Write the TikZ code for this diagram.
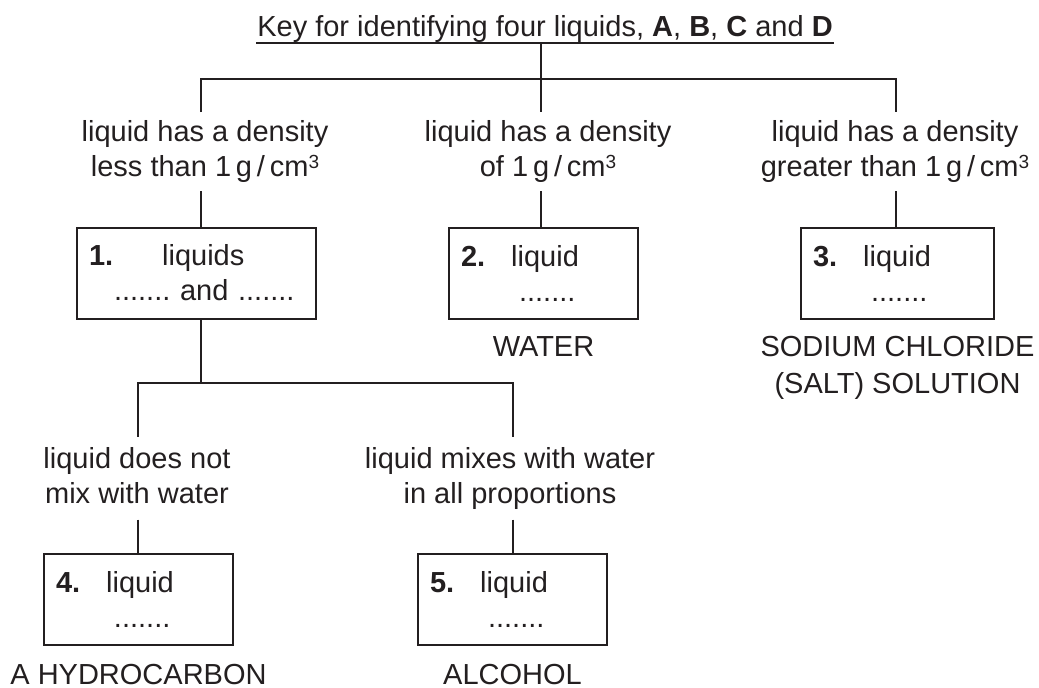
\documentclass[tikz,border=0pt]{standalone}
\usepackage{fontspec}
\setmainfont{Liberation Sans}
\usetikzlibrary{positioning}
\definecolor{ink}{HTML}{231F20}
\frenchspacing
\newcommand{\keyfont}{\fontsize{29}{35}\selectfont}
\newcommand{\gcm}{1\,g\,/\,cm\raisebox{8pt}{\fontsize{19}{19}\selectfont 3}}
\tikzset{
  question/.style={align=center, inner sep=0pt, minimum height=77pt, font=\keyfont},
  keybox/.style={draw, align=left, text width=#1, inner xsep=12pt, inner ysep=0pt, minimum height=91pt, font=\keyfont},
  keybox/.default=165pt,
  answer/.style={align=center, inner sep=0pt, font=\keyfont},
}

\begin{document}
\begin{tikzpicture}[x=1pt, y=-1pt, line width=2pt, color=ink]
        \useasboundingbox (0,0) rectangle (1039,688);

        \node[answer, anchor=base] (title) at (545,36) {Key for identifying four liquids, \textbf{A}, \textbf{B}, \textbf{C} and \textbf{D}};
        \draw (title.south west) -- (title.south east);

        \node[question] (less) at (205,151.5) {liquid has a density\\less than \gcm};
        \node[question] (equal) at (548,151.5) {liquid has a density\\of \gcm};
        \node[question] (greater) at (895,151.5) {liquid has a density\\greater than \gcm};

        \node[keybox=215pt] (box1) at (196.5,273) {\textbf{1.}\hspace{49pt}liquids\\\hspace*{25pt}....... and .......};
        \node[keybox] (box2) at (543.5,273) {\textbf{2.}\hspace{26pt}liquid\\\hspace*{58pt}.......};
        \node[keybox=169pt] (box3) at (897.5,273) {\textbf{3.}\hspace{26pt}liquid\\\hspace*{58pt}.......};

        \node[answer, below=16pt of box2] (water) {WATER};
        \node[answer, below=16pt of box3] (salt) {SODIUM CHLORIDE\\[2pt](SALT) SOLUTION};

        \node[question, minimum height=81pt] (nomix) at (137,478) {liquid does not\\mix with water\vphantom{g}};
        \node[question, minimum height=81pt] (mix) at (510,478) {liquid mixes with water\\in all proportions};

        \node[keybox] (box4) at (138.5,599.5) {\textbf{4.}\hspace{26pt}liquid\\\hspace*{58pt}.......};
        \node[keybox] (box5) at (512.5,599.5) {\textbf{5.}\hspace{26pt}liquid\\\hspace*{58pt}.......};

        \node[answer, below=17pt of box4] (hydrocarbon) {A HYDROCARBON};
        \node[answer, below=17pt of box5] (alcohol) {ALCOHOL};

        \coordinate (jl) at (201,79);
        \coordinate (jm) at (541,79);
        \coordinate (jr) at (896,79);
        \coordinate (kl) at (138,383);
        \coordinate (kr) at (513,383);

        \draw (title.south -| jm) -- (jm);
        \draw (jl |- less.north) -- (jl) -- (jr) -- (jr |- greater.north);
        \draw (jm) -- (jm |- equal.north);
        \draw (less.south -| jl) -- (box1.north -| jl);
        \draw (equal.south -| jm) -- (box2.north -| jm);
        \draw (greater.south -| jr) -- (box3.north -| jr);

        \draw (box1.south -| jl) -- (jl |- kl);
        \draw (kl |- nomix.north) -- (kl) -- (kr) -- (kr |- mix.north);
        \draw (nomix.south -| kl) -- (box4.north -| kl);
        \draw (mix.south -| kr) -- (box5.north -| kr);
\end{tikzpicture}
\end{document}
